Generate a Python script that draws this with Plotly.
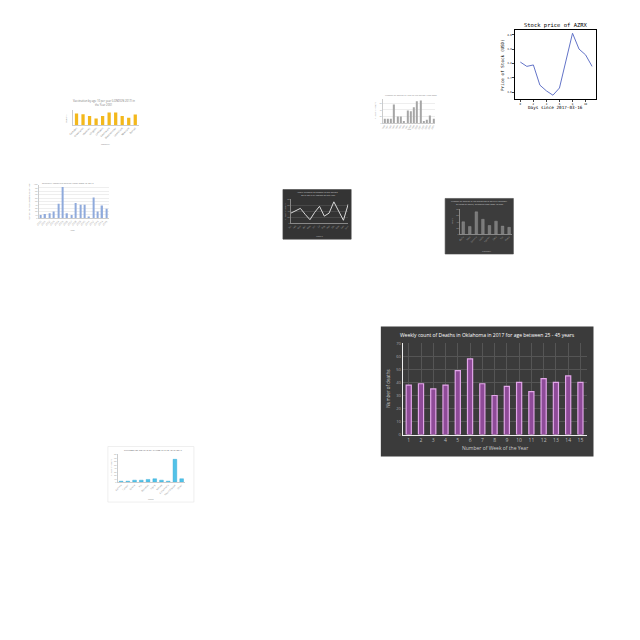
import plotly.graph_objects as go

W = H = 640

# ---------------- data ----------------
# A: Oklahoma weekly deaths
ok_weeks = [str(i) for i in range(1, 16)]
ok_deaths = [38, 39, 35, 38, 49, 58, 39, 30, 37, 40, 33, 43, 40, 45, 40]

# B: Stock price of AZRX
stock_days = list(range(0, 12))
stock_price = [3.81, 3.78, 3.79, 3.65, 3.61, 3.58, 3.63, 3.81, 4.01, 3.90, 3.86, 3.78]

# C: yellow bar chart (localities)
loc_names = ["Camden", "Greenwich", "Hackney", "Islington", "Lambeth",
             "Southwark", "Westminster", "Lewisham", "Newham", "Barnet"]
loc_values = [35, 33, 27, 20, 27, 38, 38, 27, 22, 32]

# D: grey bar chart
grey_cats = ["1990", "1991", "1992", "1993", "1994", "1995", "1996", "1997",
             "1998", "1999", "2000", "2001", "2002", "2003", "2004", "2005"]
grey_vals = [13, 13, 13, 56, 20, 20, 6, 38, 36, 48, 66, 68, 6, 10, 23, 13]

# E: blue bar chart
blue_cats = ["2000", "2001", "2002", "2003", "2004", "2005", "2006", "2007",
             "2008", "2009", "2010", "2011", "2012", "2013", "2014", "2015"]
blue_vals = [10, 13, 15, 20, 43, 93, 15, 10, 45, 40, 40, 3, 62, 20, 38, 28]

# F: dark line chart
line_cats = ["Jan", "Feb", "Mar", "Apr", "May", "Jun", "Jul", "Aug",
             "Sep", "Oct", "Nov", "Dec", "Jan+"]
line_vals = [34, 42, 50, 30, 12, 37, 57, 24, 34, 72, 40, 10, 64]

# G: dark bar chart
dbar_cats = ["Alpha", "Beta", "Gamma", "Delta", "Epsilon", "Zeta", "Eta", "Theta"]
dbar_vals = [40, 25, 72, 48, 28, 42, 26, 22]

# H: cyan bar chart
cyan_cats = ["Asthma", "Cancer", "Stroke", "Flu", "Diabetes", "Injury",
             "Kidney", "Alzheimer's", "Heart disease", "Other"]
cyan_vals = [3, 3, 6, 6, 8, 10, 6, 3, 66, 10]


def px(x):
    return x / W


def py(y):
    return 1 - y / H


fig = go.Figure()
shapes = []
annotations = []
layout_axes = {}
counter = [0]


def new_axes(x0, x1, y0, y1, xopt, yopt):
    counter[0] += 1
    n = counter[0]
    xa = "xaxis" if n == 1 else f"xaxis{n}"
    ya = "yaxis" if n == 1 else f"yaxis{n}"
    xr = "x" if n == 1 else f"x{n}"
    yr = "y" if n == 1 else f"y{n}"
    xd = dict(domain=[px(x0), px(x1)], anchor=yr)
    yd = dict(domain=[py(y1), py(y0)], anchor=xr)
    xd.update(xopt)
    yd.update(yopt)
    layout_axes[xa] = xd
    layout_axes[ya] = yd
    return xr, yr


def text(x, y, s, size, color, angle=0, family="Open Sans"):
    annotations.append(dict(x=px(x), y=py(y), xref="paper", yref="paper", text=s,
                            showarrow=False, textangle=angle,
                            font=dict(size=size, color=color, family=family),
                            xanchor="center", yanchor="middle"))


def rect(x0, y0, x1, y1, fill, line=None):
    shapes.append(dict(type="rect", xref="paper", yref="paper",
                       x0=px(x0), x1=px(x1), y0=py(y1), y1=py(y0),
                       fillcolor=fill, line=dict(width=0.6 if line else 0, color=line or fill),
                       layer="below"))


# ---------------- A: Oklahoma ----------------
rect(380, 326, 595, 457, "#3b3b3b")
xr, yr = new_axes(402, 588, 343, 435,
                  dict(showgrid=True, gridcolor="#555555", gridwidth=0.5,
                       tickfont=dict(size=5, color="#bbbbbb"), showline=True,
                       linecolor="#eeeeee", linewidth=1, ticks=""),
                  dict(range=[0, 70], dtick=10, showgrid=True, gridcolor="#555555",
                       gridwidth=0.5, tickfont=dict(size=4, color="#aaaaaa"),
                       showline=True, linecolor="#eeeeee", linewidth=1, zeroline=False))
fig.add_trace(go.Bar(x=ok_weeks, y=ok_deaths, xaxis=xr, yaxis=yr, width=0.42,
                     marker=dict(color="#8e4b98", line=dict(color="#e3a6ea", width=1.2))))
text(488, 335, "Weekly count of Deaths in Oklahoma in 2017 for age between 25 - 45 years", 5, "#ffffff")
text(495, 448, "Number of Week of the Year", 5, "#cccccc")
text(387, 389, "Number of deaths", 4.5, "#cccccc", angle=-90)

# ---------------- B: Stock ----------------
mono = "DejaVu Sans Mono"
xr, yr = new_axes(516, 598, 27, 97,
                  dict(range=[-0.76, 11.67], tickvals=[0, 2, 4, 6, 8, 10], showgrid=False,
                       showline=True, mirror=True, linecolor="#000000", linewidth=0.8,
                       ticks="outside", ticklen=2, tickfont=dict(size=2.6, family=mono, color="#000"),
                       zeroline=False),
                  dict(range=[3.552, 4.034], tickvals=[3.6, 3.7, 3.8, 3.9, 4.0],
                       ticktext=["3.6", "3.7", "3.8", "3.9", "4.0"], showgrid=False,
                       showline=True, mirror=True, linecolor="#000000", linewidth=0.8,
                       ticks="outside", ticklen=2, tickfont=dict(size=2.6, family=mono, color="#000"),
                       zeroline=False))
fig.add_trace(go.Scatter(x=stock_days, y=stock_price, xaxis=xr, yaxis=yr, mode="lines",
                         line=dict(color="#6374c8", width=1)))
text(557, 23, "Stock price of AZRX", 5.5, "#000000", family=mono)
text(557, 105, "Days since 2017-03-16", 4.3, "#000000", family=mono)
text(503, 62, "Price of Stock (USD)", 4.3, "#000000", angle=-90, family=mono)

# ---------------- C: yellow bars ----------------
xr, yr = new_axes(69, 135, 108, 123,
                  dict(showgrid=False, tickangle=-45, tickfont=dict(size=2.5, color="#777"),
                       showline=True, linecolor="#cccccc", linewidth=0.5),
                  dict(range=[0, 45], showgrid=False, showticklabels=False,
                       showline=True, linecolor="#cccccc", linewidth=0.5, zeroline=False))
fig.add_trace(go.Bar(x=loc_names, y=loc_values, xaxis=xr, yaxis=yr, width=0.5,
                     marker=dict(color="#f3b81c", line=dict(width=0))))
text(100, 99, "Vaccination by age 10 per year (LONDON 2017) in", 2.7, "#777777")
text(100, 103, "the Year 2001", 2.7, "#777777")
text(62, 116, "Rate %", 2.5, "#777777", angle=-90)
text(102, 142, "Locality", 2.5, "#888888")

# ---------------- D: grey bars ----------------
xr, yr = new_axes(382, 435, 97, 121,
                  dict(showgrid=False, tickangle=-60, tickfont=dict(size=2, color="#888"),
                       showline=True, linecolor="#cccccc", linewidth=0.5),
                  dict(range=[0, 72], showgrid=True, gridcolor="#eeeeee", gridwidth=0.4,
                       tickfont=dict(size=2, color="#999"), showline=True,
                       linecolor="#cccccc", linewidth=0.5, zeroline=False))
fig.add_trace(go.Bar(x=grey_cats, y=grey_vals, xaxis=xr, yaxis=yr, width=0.35,
                     marker=dict(color="#a6a6a6", line=dict(width=0))))
text(410, 93, "Number of deaths by year of the period 1990-2005", 2.2, "#888888")
text(374, 108, "Number of deaths", 2, "#888888", angle=-90)
text(408, 127, "Year", 2, "#888888")

# ---------------- E: blue bars ----------------
xr, yr = new_axes(34, 105, 183, 217,
                  dict(showgrid=False, tickangle=-45, tickfont=dict(size=2.5, color="#888"),
                       showline=True, linecolor="#cccccc", linewidth=0.5),
                  dict(range=[0, 100], dtick=10, showgrid=True, gridcolor="#eeeeee",
                       gridwidth=0.4, tickfont=dict(size=2.2, color="#999"), showline=True,
                       linecolor="#cccccc", linewidth=0.5, zeroline=False))
fig.add_trace(go.Bar(x=blue_cats, y=blue_vals, xaxis=xr, yaxis=yr, width=0.3,
                     marker=dict(color="#8faadc", line=dict(width=0))))
text(64, 181, "Officially reported deaths from 2000 to 2015", 2.5, "#888888")
text(25, 200, "Number of reported deaths per year", 2.2, "#888888", angle=-90)
text(68, 229, "Year", 2.3, "#888888")

# ---------------- F: dark line ----------------
rect(281, 188, 350, 238, "#343434", line="#444444")
xr, yr = new_axes(289, 347, 198, 222,
                  dict(showgrid=False, tickangle=-45, tickfont=dict(size=2.2, color="#aaaaaa"),
                       showline=True, linecolor="#888888", linewidth=0.5),
                  dict(range=[0, 80], showgrid=True, gridcolor="#484848", gridwidth=0.4,
                       tickfont=dict(size=2.2, color="#aaaaaa"), showline=True,
                       linecolor="#888888", linewidth=0.5, zeroline=False))
fig.add_trace(go.Scatter(x=line_cats, y=line_vals, xaxis=xr, yaxis=yr, mode="lines",
                         line=dict(color="#d9d9d9", width=1)))
text(316, 191, "Yearly number of deaths in the period", 2.3, "#cccccc")
text(316, 194, "2015-2016 by month of the year", 2.3, "#cccccc")
text(283, 210, "Number of deaths", 2, "#bbbbbb", angle=-90)
text(318, 235, "Month", 2.2, "#bbbbbb")

# ---------------- G: dark bars ----------------
rect(445, 197, 514, 253, "#3c3c3c", line="#4a4a4a")
xr, yr = new_axes(460, 513, 208, 233,
                  dict(showgrid=False, tickangle=-45, tickfont=dict(size=2.2, color="#aaaaaa"),
                       showline=True, linecolor="#888888", linewidth=0.5),
                  dict(range=[0, 80], showgrid=False, tickfont=dict(size=2.2, color="#aaaaaa"),
                       showline=True, linecolor="#888888", linewidth=0.5, zeroline=False))
fig.add_trace(go.Bar(x=dbar_cats, y=dbar_vals, xaxis=xr, yaxis=yr, width=0.4,
                     marker=dict(color="#7a7a7a", line=dict(color="#999999", width=0.4))))
text(480, 200, "Number of Deaths in the period 2010-2016 by category", 2.2, "#cccccc")
text(480, 203, "of cause of death, arranged from most to least", 2.2, "#cccccc")
text(452, 220, "Deaths", 2, "#bbbbbb", angle=-90)
text(487, 250, "Category", 2.2, "#bbbbbb")

# ---------------- H: cyan bars ----------------
rect(104, 447, 191, 503, "rgba(255,255,255,0)", line="#e4e4e4")
xr, yr = new_axes(114, 182, 455, 483,
                  dict(showgrid=False, tickangle=-45, tickfont=dict(size=2.3, color="#888"),
                       showline=True, linecolor="#cccccc", linewidth=0.5),
                  dict(range=[0, 80], dtick=10, showgrid=False,
                       tickfont=dict(size=2.2, color="#999"), showline=True,
                       linecolor="#cccccc", linewidth=0.5, zeroline=False))
fig.add_trace(go.Bar(x=cyan_cats, y=cyan_vals, xaxis=xr, yaxis=yr, width=0.55,
                     marker=dict(color="#52c2e8", line=dict(color="#2aa7d3", width=0.4))))
text(150, 451, "NUMBER OF DEATHS BY CAUSE IN THE YEAR 2017", 2.5, "#666666")
text(108, 468, "Number of deaths", 2, "#888888", angle=-90)
text(148, 500, "Cause", 2, "#888888")

fig.update_layout(width=W, height=H, margin=dict(l=0, r=0, t=0, b=0),
                  paper_bgcolor="#ffffff", plot_bgcolor="rgba(0,0,0,0)",
                  showlegend=False, shapes=shapes, annotations=annotations,
                  bargap=0.3, **layout_axes)

fig.write_html("out.html")
